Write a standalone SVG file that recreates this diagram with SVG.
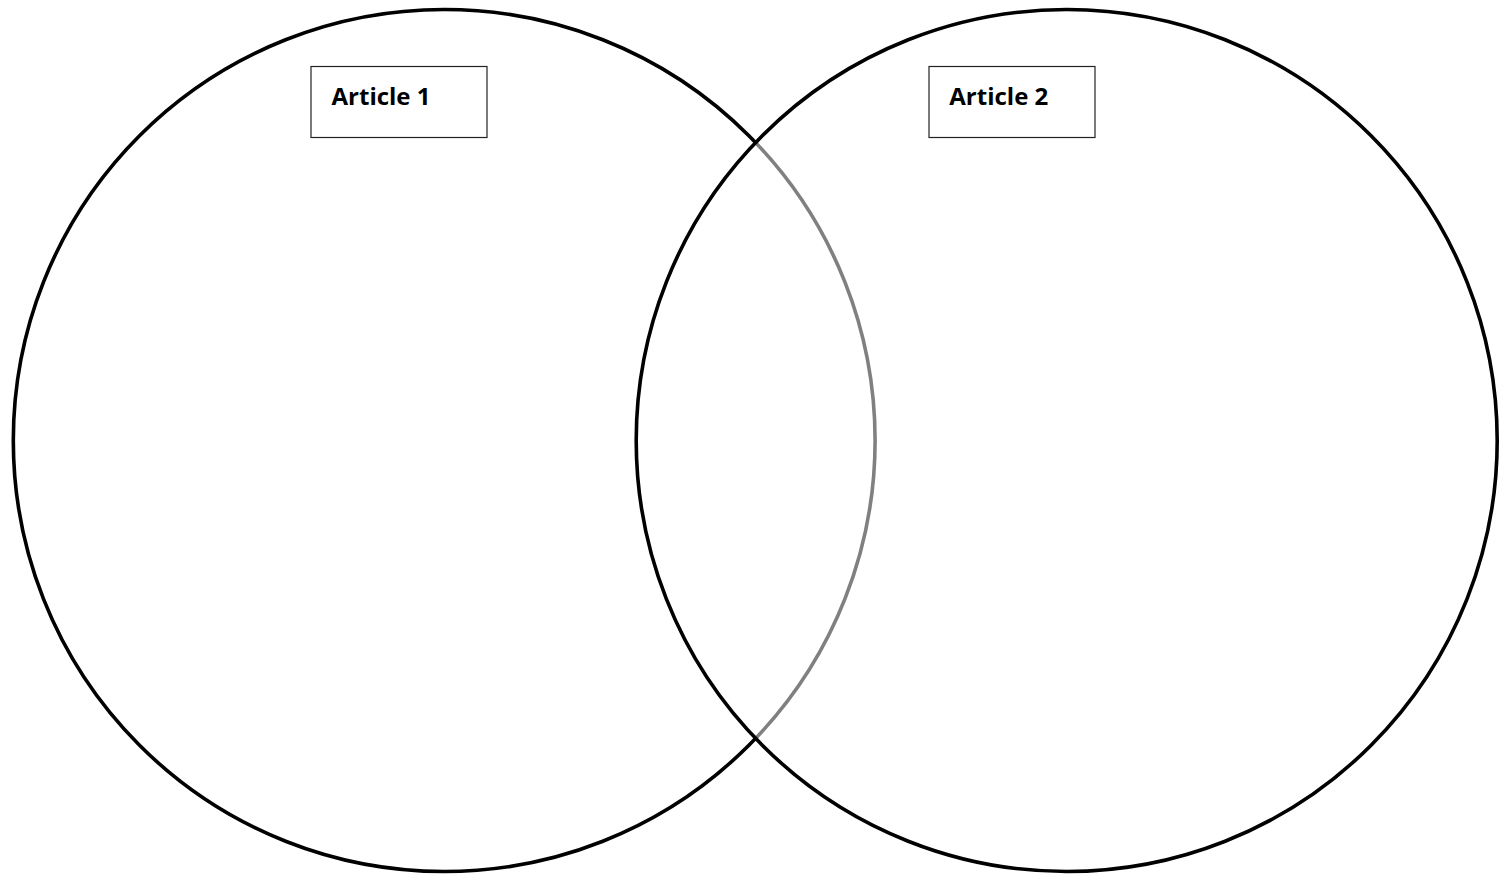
<svg xmlns="http://www.w3.org/2000/svg" width="1499" height="876" viewBox="0 0 1499 876">
  <style>
    .circle { stroke: #000; stroke-width: 3.6; }
    .box { fill: #fff; stroke: #222; stroke-width: 1.2; }
    .label { font-family: "Open Sans", "Liberation Sans", sans-serif; font-weight: bold; font-size: 23px; fill: #000; }
  </style>
  <rect width="1499" height="876" fill="#fff"/>
  <g id="circle-article-1">
    <ellipse class="circle" cx="444.2" cy="440.5" rx="430.9" ry="431" fill="#fff"/>
  </g>
  <g id="circle-article-2">
    <ellipse class="circle" cx="1066.7" cy="440.5" rx="430.5" ry="431" fill="#fff" fill-opacity="0.5"/>
  </g>
  <g id="label-article-1">
    <rect class="box" x="311" y="66.5" width="176" height="71"/>
    <text class="label" x="331.5" y="105" textLength="99" lengthAdjust="spacingAndGlyphs">Article 1</text>
  </g>
  <g id="label-article-2">
    <rect class="box" x="929" y="66.5" width="166" height="71"/>
    <text class="label" x="949.3" y="105" textLength="99" lengthAdjust="spacingAndGlyphs">Article 2</text>
  </g>
  <g id="connectors"/>
</svg>
